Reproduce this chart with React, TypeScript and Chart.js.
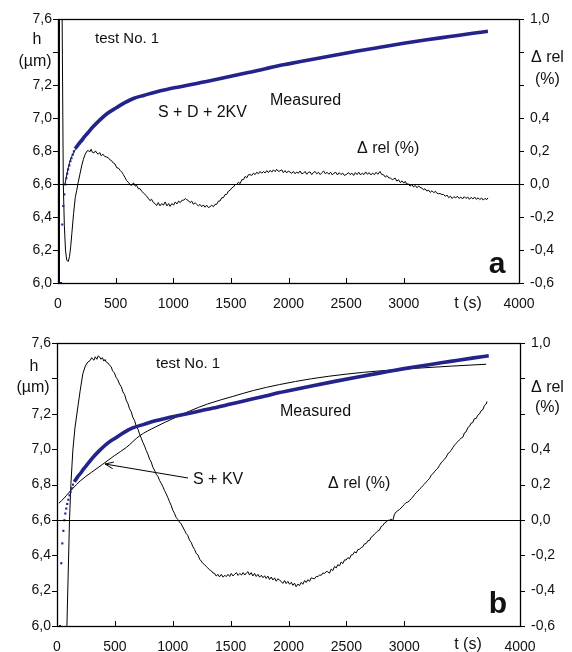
import React, { useEffect, useRef } from 'react';
import { Chart, registerables } from 'chart.js';
Chart.register(...registerables);

// ---------- DATA ----------
// Measured thickness h (µm) vs t (s) – same test for both panels
const measured: [number, number][] = [
  [26, 6.0], [37, 6.355], [46, 6.467], [55, 6.538], [64, 6.598], [72, 6.636], [80, 6.664], [88, 6.69],
  [98, 6.714], [108, 6.739], [117, 6.757], [128, 6.779], [138, 6.799], [150, 6.815], [165, 6.83], [180, 6.845],
  [205, 6.865], [230, 6.888], [260, 6.912], [300, 6.945], [364, 6.99], [430, 7.03], [509, 7.065], [580, 7.095],
  [654, 7.12], [750, 7.14], [850, 7.16], [943, 7.175], [1050, 7.19], [1145, 7.203], [1250, 7.218], [1350, 7.232],
  [1500, 7.255], [1650, 7.278], [1800, 7.3], [1922, 7.32], [2000, 7.33], [2200, 7.357], [2400, 7.383],
  [2600, 7.408], [2794, 7.431], [3000, 7.455], [3200, 7.476], [3400, 7.496], [3600, 7.516], [3730, 7.528],
];

// Fit S + D + 2KV (panel a)
const fitA: [number, number][] = [
  [60, 6.6], [100, 6.73], [150, 6.81], [200, 6.86], [300, 6.945], [430, 7.03], [580, 7.095], [750, 7.14],
  [943, 7.175], [1145, 7.203], [1500, 7.255], [1922, 7.32], [2400, 7.383], [2794, 7.431], [3200, 7.476], [3730, 7.528],
];

// Fit S + KV (panel b)
const fitB: [number, number][] = [
  [16, 6.694], [60, 6.722], [100, 6.752], [137, 6.778], [200, 6.82], [300, 6.87], [396, 6.915], [500, 6.965],
  [600, 7.01], [713, 7.075], [850, 7.125], [1000, 7.172], [1145, 7.215], [1300, 7.255], [1519, 7.298],
  [1700, 7.332], [1922, 7.365], [2200, 7.398], [2498, 7.424], [2800, 7.443], [3074, 7.456], [3400, 7.469], [3708, 7.48],
];

// Relative deviation Δrel (%) – panel a
const relA: [number, number][] = [
  [10, -0.9], [13, 1.3], [33, 1.3], [46, 0.0], [55, -0.25], [65, -0.4], [75, -0.46], [88, -0.47], [100, -0.44],
  [110, -0.38], [120, -0.3], [135, -0.18], [150, -0.08], [162, -0.04], [175, 0.01], [190, 0.06], [205, 0.11],
  [220, 0.15], [235, 0.18], [250, 0.2], [262, 0.205], [275, 0.195], [287, 0.212], [300, 0.192], [312, 0.19],
  [325, 0.202], [337, 0.188], [350, 0.182], [362, 0.192], [375, 0.172], [390, 0.182], [405, 0.168], [420, 0.165],
  [437, 0.16], [450, 0.148], [465, 0.142], [480, 0.128], [495, 0.122], [509, 0.1], [525, 0.097], [540, 0.083],
  [555, 0.072], [567, 0.058], [580, 0.042], [595, 0.022], [610, 0.012], [625, -0.002], [640, -0.008], [655, 0.008],
  [670, -0.012], [683, -0.008], [697, -0.028], [712, -0.028], [726, -0.042], [740, -0.053], [755, -0.063],
  [770, -0.073], [785, -0.088], [798, -0.1], [812, -0.092], [828, -0.112], [842, -0.118], [856, -0.13],
  [870, -0.112], [885, -0.132], [900, -0.118], [915, -0.127], [930, -0.108], [945, -0.132], [960, -0.118],
  [972, -0.135], [988, -0.118], [1003, -0.127], [1018, -0.108], [1032, -0.12], [1047, -0.103], [1061, -0.112],
  [1075, -0.098], [1090, -0.097], [1105, -0.088], [1117, -0.094], [1132, -0.1], [1146, -0.112], [1160, -0.103],
  [1175, -0.122], [1190, -0.113], [1203, -0.122], [1218, -0.132], [1232, -0.123], [1247, -0.137], [1261, -0.126],
  [1276, -0.14], [1290, -0.128], [1305, -0.142], [1319, -0.137], [1334, -0.128], [1348, -0.137], [1362, -0.123],
  [1377, -0.122], [1392, -0.103], [1406, -0.102], [1420, -0.083], [1435, -0.082], [1450, -0.063], [1464, -0.062],
  [1478, -0.043], [1493, -0.037], [1508, -0.023], [1522, -0.017], [1537, -0.003], [1551, -0.002], [1566, 0.012],
  [1580, 0.003], [1595, 0.027], [1610, 0.028], [1624, 0.047], [1638, 0.038], [1652, 0.057], [1666, 0.058],
  [1681, 0.053], [1696, 0.067], [1710, 0.058], [1724, 0.072], [1739, 0.063], [1753, 0.077], [1768, 0.066],
  [1782, 0.077], [1797, 0.068], [1811, 0.082], [1826, 0.07], [1840, 0.084], [1855, 0.073], [1869, 0.087],
  [1884, 0.076], [1897, 0.09], [1912, 0.078], [1926, 0.08], [1941, 0.087], [1955, 0.07], [1970, 0.082],
  [1984, 0.068], [1999, 0.08], [2013, 0.073], [2028, 0.066], [2042, 0.077], [2057, 0.063], [2071, 0.074],
  [2086, 0.066], [2100, 0.08], [2115, 0.063], [2129, 0.066], [2144, 0.077], [2158, 0.06], [2173, 0.072],
  [2187, 0.074], [2202, 0.058], [2215, 0.07], [2230, 0.077], [2245, 0.063], [2260, 0.072], [2275, 0.058],
  [2290, 0.07], [2305, 0.08], [2320, 0.063], [2335, 0.072], [2350, 0.06], [2365, 0.072], [2380, 0.056],
  [2395, 0.067], [2410, 0.072], [2425, 0.056], [2440, 0.07], [2455, 0.058], [2470, 0.067], [2485, 0.053],
  [2505, 0.06], [2520, 0.07], [2535, 0.058], [2550, 0.067], [2565, 0.053], [2580, 0.07], [2595, 0.058],
  [2610, 0.072], [2625, 0.056], [2640, 0.067], [2655, 0.058], [2670, 0.074], [2685, 0.06], [2700, 0.07],
  [2715, 0.056], [2730, 0.067], [2745, 0.058], [2760, 0.072], [2775, 0.06], [2794, 0.077], [2810, 0.058],
  [2825, 0.057], [2840, 0.043], [2855, 0.052], [2870, 0.038], [2885, 0.037], [2900, 0.028], [2910, 0.03],
  [2925, 0.037], [2940, 0.018], [2955, 0.027], [2970, 0.01], [2985, 0.02], [3000, 0.006], [3013, 0.017],
  [3025, 0.0], [3040, 0.002], [3055, -0.012], [3070, -0.003], [3085, -0.017], [3100, -0.008], [3115, -0.022],
  [3130, -0.01], [3141, -0.02], [3156, -0.023], [3170, -0.034], [3185, -0.028], [3200, -0.042], [3215, -0.036],
  [3230, -0.05], [3245, -0.04], [3260, -0.052], [3275, -0.043], [3286, -0.054], [3300, -0.058], [3315, -0.057],
  [3330, -0.063], [3345, -0.062], [3360, -0.074], [3375, -0.066], [3390, -0.082], [3405, -0.073], [3420, -0.087],
  [3435, -0.076], [3450, -0.084], [3465, -0.073], [3480, -0.087], [3495, -0.078], [3510, -0.09], [3525, -0.076],
  [3540, -0.087], [3555, -0.078], [3570, -0.092], [3585, -0.08], [3600, -0.09], [3615, -0.078], [3630, -0.092],
  [3645, -0.083], [3660, -0.094], [3675, -0.084], [3690, -0.097], [3705, -0.086], [3720, -0.094], [3730, -0.083],
];

// Relative deviation Δrel (%) – panel b
const relB: [number, number][] = [
  [80, -0.75], [95, -0.35], [108, 0.0], [120, 0.2], [137, 0.394], [155, 0.52], [180, 0.638], [200, 0.73],
  [223, 0.826], [245, 0.87], [266, 0.892], [285, 0.9], [300, 0.917], [309, 0.908], [320, 0.903], [330, 0.922],
  [345, 0.908], [355, 0.927], [367, 0.922], [380, 0.908], [392, 0.917], [405, 0.898], [415, 0.907], [425, 0.893],
  [440, 0.887], [455, 0.873], [468, 0.866], [480, 0.843], [495, 0.832], [511, 0.805], [525, 0.792], [540, 0.768],
  [555, 0.753], [570, 0.723], [585, 0.707], [600, 0.673], [612, 0.659], [627, 0.628], [641, 0.612], [655, 0.58],
  [670, 0.562], [685, 0.528], [700, 0.512], [713, 0.486], [728, 0.462], [742, 0.438], [757, 0.417], [771, 0.392],
  [785, 0.372], [800, 0.343], [814, 0.327], [828, 0.298], [842, 0.282], [857, 0.258], [871, 0.247], [886, 0.223],
  [900, 0.207], [915, 0.188], [928, 0.167], [943, 0.148], [957, 0.127], [972, 0.103], [986, 0.082], [1001, 0.054],
  [1015, 0.037], [1030, 0.013], [1044, 0.002], [1058, -0.012], [1073, -0.023], [1087, -0.04], [1101, -0.058],
  [1116, -0.077], [1130, -0.088], [1145, -0.115], [1160, -0.128], [1174, -0.152], [1189, -0.168], [1203, -0.19],
  [1218, -0.198], [1232, -0.222], [1246, -0.233], [1260, -0.246], [1275, -0.253], [1290, -0.264], [1304, -0.273],
  [1318, -0.282], [1333, -0.288], [1347, -0.3], [1362, -0.303], [1376, -0.318], [1390, -0.308], [1404, -0.322],
  [1420, -0.308], [1435, -0.324], [1450, -0.313], [1462, -0.321], [1477, -0.308], [1492, -0.32], [1506, -0.303],
  [1520, -0.317], [1535, -0.308], [1550, -0.298], [1564, -0.314], [1579, -0.303], [1594, -0.312], [1608, -0.298],
  [1622, -0.312], [1637, -0.3], [1650, -0.293], [1663, -0.312], [1678, -0.298], [1692, -0.317], [1707, -0.303],
  [1721, -0.32], [1736, -0.308], [1750, -0.324], [1765, -0.313], [1779, -0.327], [1794, -0.316], [1807, -0.331],
  [1822, -0.318], [1836, -0.337], [1851, -0.323], [1865, -0.34], [1880, -0.328], [1894, -0.347], [1908, -0.333],
  [1922, -0.34], [1937, -0.348], [1951, -0.359], [1966, -0.343], [1980, -0.36], [1995, -0.348], [2009, -0.364],
  [2024, -0.353], [2038, -0.37], [2052, -0.358], [2066, -0.378], [2081, -0.363], [2095, -0.372], [2110, -0.353],
  [2124, -0.364], [2139, -0.343], [2153, -0.354], [2167, -0.338], [2182, -0.347], [2196, -0.328], [2210, -0.331],
  [2225, -0.333], [2240, -0.32], [2254, -0.32], [2268, -0.312], [2283, -0.313], [2297, -0.3], [2312, -0.303],
  [2326, -0.292], [2340, -0.293], [2354, -0.302], [2369, -0.278], [2383, -0.287], [2398, -0.263], [2412, -0.272],
  [2426, -0.253], [2441, -0.26], [2455, -0.238], [2470, -0.247], [2484, -0.226], [2498, -0.227], [2513, -0.213],
  [2527, -0.22], [2542, -0.198], [2556, -0.197], [2570, -0.18], [2585, -0.187], [2599, -0.168], [2613, -0.167],
  [2628, -0.156], [2642, -0.152], [2656, -0.136], [2671, -0.134], [2685, -0.118], [2700, -0.117], [2714, -0.098],
  [2728, -0.092], [2743, -0.08], [2757, -0.072], [2771, -0.063], [2786, -0.058], [2800, -0.038], [2815, -0.032],
  [2829, -0.018], [2843, -0.012], [2858, -0.003], [2873, -0.002], [2887, 0.004], [2901, -0.004], [2915, 0.032],
  [2930, 0.045], [2944, 0.052], [2958, 0.058], [2972, 0.067], [2987, 0.078], [3001, 0.087], [3016, 0.098],
  [3030, 0.1], [3045, 0.108], [3059, 0.12], [3074, 0.129], [3088, 0.142], [3102, 0.153], [3117, 0.162],
  [3131, 0.173], [3146, 0.182], [3160, 0.193], [3174, 0.202], [3189, 0.213], [3203, 0.224], [3218, 0.233],
  [3232, 0.252], [3246, 0.26], [3261, 0.272], [3275, 0.283], [3290, 0.292], [3304, 0.308], [3318, 0.322],
  [3333, 0.333], [3347, 0.342], [3362, 0.355], [3376, 0.372], [3390, 0.383], [3405, 0.392], [3419, 0.408],
  [3434, 0.422], [3448, 0.433], [3462, 0.442], [3477, 0.453], [3491, 0.462], [3506, 0.467], [3520, 0.492],
  [3535, 0.498], [3549, 0.522], [3563, 0.528], [3578, 0.547], [3592, 0.55], [3606, 0.572], [3621, 0.573],
  [3635, 0.592], [3650, 0.599], [3664, 0.617], [3679, 0.623], [3693, 0.647], [3708, 0.655], [3715, 0.67],
];

const xTickValues = [0, 500, 1000, 1500, 2000, 2500, 3000, 3500, 4000];
const hiddenXTick = 3500;
const leftLabelReplaced = 7.4;
const rightLabelsReplaced = [0.8, 0.6];

// ---------- STYLE ----------
const NAVY = '#23238c';
const FONT = '"Liberation Sans", Arial, Helvetica, sans-serif';
const TXT = '#111';

type TextSpec = { t: string; x: number; y: number; size: number; align?: CanvasTextAlign; bold?: boolean; base?: CanvasTextBaseline };

type PanelSpec = {
  height: number;
  top: number;
  leftW: number;
  rightW: number;
  xH: number;
  leftPad: number;
  datasets: any[];
  texts: TextSpec[];
  arrow?: { x1: number; y1: number; x2: number; y2: number };
};

const fmt = (v: number) => v.toFixed(1).replace('.', ',');
const toXY = (arr: [number, number][]) => arr.map(([x, y]) => ({ x, y }));

function makeConfig(spec: PanelSpec): any {
  const overlay = {
    id: 'overlay',
    afterDraw(chart: any) {
      const { ctx, chartArea: a, scales } = chart;
      ctx.save();
      ctx.strokeStyle = '#000';
      ctx.lineWidth = 1;
      // zero line of Δrel
      const y0 = Math.round(scales.y2.getPixelForValue(0)) + 0.5;
      ctx.beginPath();
      ctx.moveTo(a.left, y0);
      ctx.lineTo(a.right, y0);
      ctx.stroke();
      // frame
      ctx.lineWidth = 1.3;
      ctx.strokeRect(Math.round(a.left) + 0.5, Math.round(a.top) + 0.5, Math.round(a.right - a.left), Math.round(a.bottom - a.top));
      // ticks
      ctx.lineWidth = 1;
      ctx.beginPath();
      scales.x.ticks.forEach((t: any) => {
        if (t.value === hiddenXTick) return;
        const px = Math.round(scales.x.getPixelForValue(t.value)) + 0.5;
        ctx.moveTo(px, a.bottom);
        ctx.lineTo(px, a.bottom - 5);
      });
      scales.y.ticks.forEach((t: any) => {
        const py = Math.round(scales.y.getPixelForValue(t.value)) + 0.5;
        ctx.moveTo(a.left - 5, py);
        ctx.lineTo(a.left, py);
      });
      scales.y2.ticks.forEach((t: any) => {
        const py = Math.round(scales.y2.getPixelForValue(t.value)) + 0.5;
        ctx.moveTo(a.right, py);
        ctx.lineTo(a.right + 5, py);
      });
      ctx.stroke();
      // arrow
      if (spec.arrow) {
        const { x1, y1, x2, y2 } = spec.arrow;
        ctx.beginPath();
        ctx.moveTo(x1, y1);
        ctx.lineTo(x2, y2);
        ctx.stroke();
        const ang = Math.atan2(y2 - y1, x2 - x1);
        const L = 9, W = 0.38;
        ctx.beginPath();
        ctx.moveTo(x2 - L * Math.cos(ang - W), y2 - L * Math.sin(ang - W));
        ctx.lineTo(x2, y2);
        ctx.lineTo(x2 - L * Math.cos(ang + W), y2 - L * Math.sin(ang + W));
        ctx.stroke();
      }
      // texts
      ctx.fillStyle = TXT;
      spec.texts.forEach((s) => {
        ctx.font = `${s.bold ? 'bold ' : ''}${s.size}px ${FONT}`;
        ctx.textAlign = s.align || 'left';
        ctx.textBaseline = s.base || 'middle';
        ctx.fillText(s.t, s.x, s.y);
      });
      ctx.restore();
    },
  };

  const tickFont = { family: FONT, size: 14 };
  const grid = { display: false, drawTicks: false, tickLength: 0 };
  return {
    type: 'scatter',
    data: { datasets: spec.datasets },
    plugins: [overlay],
    options: {
      animation: false,
      responsive: false,
      events: [],
      layout: { padding: { top: spec.top, left: 0, right: 0, bottom: 0 } },
      plugins: { legend: { display: false }, tooltip: { enabled: false } },
      scales: {
        x: {
          type: 'linear',
          min: 0,
          max: 4000,
          afterBuildTicks: (s: any) => { s.ticks = xTickValues.map((v) => ({ value: v })); },
          afterFit: (s: any) => { s.height = spec.xH; },
          grid,
          border: { display: false },
          ticks: {
            autoSkip: false,
            maxRotation: 0,
            padding: 13,
            color: TXT,
            font: tickFont,
            callback: (v: number) => (v === hiddenXTick ? '' : String(v)),
          },
        },
        y: {
          type: 'linear',
          position: 'left',
          min: 6.0,
          max: 7.6,
          afterFit: (s: any) => { s.width = spec.leftW; },
          grid,
          border: { display: false },
          ticks: {
            stepSize: 0.2,
            padding: spec.leftPad,
            color: TXT,
            font: tickFont,
            callback: (v: number) => (Math.abs(v - leftLabelReplaced) < 1e-6 ? '' : fmt(v)),
          },
        },
        y2: {
          type: 'linear',
          position: 'right',
          min: -0.6,
          max: 1.0,
          afterFit: (s: any) => { s.width = spec.rightW; },
          grid,
          border: { display: false },
          ticks: {
            stepSize: 0.2,
            padding: 11,
            color: TXT,
            font: tickFont,
            callback: (v: number) => (rightLabelsReplaced.some((r) => Math.abs(v - r) < 1e-6) ? '' : fmt(v)),
          },
        },
      },
    },
  };
}

const measuredDataset = () => ({
  label: 'Measured',
  data: toXY(measured),
  yAxisID: 'y',
  showLine: true,
  cubicInterpolationMode: 'monotone',
  borderColor: NAVY,
  backgroundColor: NAVY,
  borderWidth: 3.6,
  pointStyle: 'rect',
  pointRadius: (c: any) => (c.raw && c.raw.x < 150 ? 1.5 : 0),
  pointBorderWidth: 0,
  segment: { borderColor: (c: any) => (c.p0.parsed.x < 140 ? 'rgba(0,0,0,0)' : undefined) },
  order: 1,
});

const thinLine = (label: string, arr: [number, number][], axis: string, order: number, smooth: boolean) => ({
  label,
  data: toXY(arr),
  yAxisID: axis,
  showLine: true,
  cubicInterpolationMode: smooth ? 'monotone' : 'default',
  borderColor: '#000',
  borderWidth: 1,
  pointRadius: 0,
  order,
});

const panelA: PanelSpec = {
  height: 320,
  top: 17,
  leftW: 58,
  rightW: 53,
  xH: 37,
  leftPad: 6,
  datasets: [
    measuredDataset(),
    thinLine('S + D + 2KV', fitA, 'y', 2, true),
    thinLine('Δ rel (%)', relA, 'y2', 3, false),
  ],
  texts: [
    { t: 'h', x: 37, y: 40, size: 16, align: 'center' },
    { t: '(µm)', x: 35, y: 62, size: 16, align: 'center' },
    { t: 'Δ rel', x: 531, y: 58, size: 16 },
    { t: '(%)', x: 535, y: 80, size: 16 },
    { t: 'test No. 1', x: 95, y: 39, size: 15 },
    { t: 'S + D + 2KV', x: 158, y: 113, size: 16 },
    { t: 'Measured', x: 270, y: 101, size: 16 },
    { t: 'Δ rel (%)', x: 357, y: 149, size: 16 },
    { t: 't (s)', x: 468, y: 304, size: 16, align: 'center' },
    { t: 'a', x: 497, y: 273, size: 30, align: 'center', bold: true, base: 'alphabetic' },
  ],
};

const panelB: PanelSpec = {
  height: 332,
  top: 23,
  leftW: 57,
  rightW: 52,
  xH: 26,
  leftPad: 6,
  datasets: [
    measuredDataset(),
    thinLine('S + KV', fitB, 'y', 2, true),
    thinLine('Δ rel (%)', relB, 'y2', 3, false),
  ],
  texts: [
    { t: 'h', x: 34, y: 47, size: 16, align: 'center' },
    { t: '(µm)', x: 33, y: 68, size: 16, align: 'center' },
    { t: 'Δ rel', x: 531, y: 68, size: 16 },
    { t: '(%)', x: 535, y: 88, size: 16 },
    { t: 'test No. 1', x: 156, y: 44, size: 15 },
    { t: 'S + KV', x: 193, y: 160, size: 16 },
    { t: 'Measured', x: 280, y: 92, size: 16 },
    { t: 'Δ rel (%)', x: 328, y: 164, size: 16 },
    { t: 't (s)', x: 468, y: 325, size: 16, align: 'center' },
    { t: 'b', x: 498, y: 293, size: 30, align: 'center', bold: true, base: 'alphabetic' },
  ],
  arrow: { x1: 188, y1: 158, x2: 105, y2: 144 },
};

function Panel({ spec }: { spec: PanelSpec }) {
  const ref = useRef<HTMLCanvasElement | null>(null);
  useEffect(() => {
    if (!ref.current) return;
    const chart = new Chart(ref.current, makeConfig(spec));
    return () => chart.destroy();
  }, [spec]);
  return <canvas ref={ref} width={572} height={spec.height} style={{ display: 'block', width: 572, height: spec.height }} />;
}

export default function App() {
  return (
    <div style={{ position: 'absolute', left: 0, top: 0, width: 572, height: 652, background: '#fff' }}>
      <Panel spec={panelA} />
      <Panel spec={panelB} />
    </div>
  );
}
